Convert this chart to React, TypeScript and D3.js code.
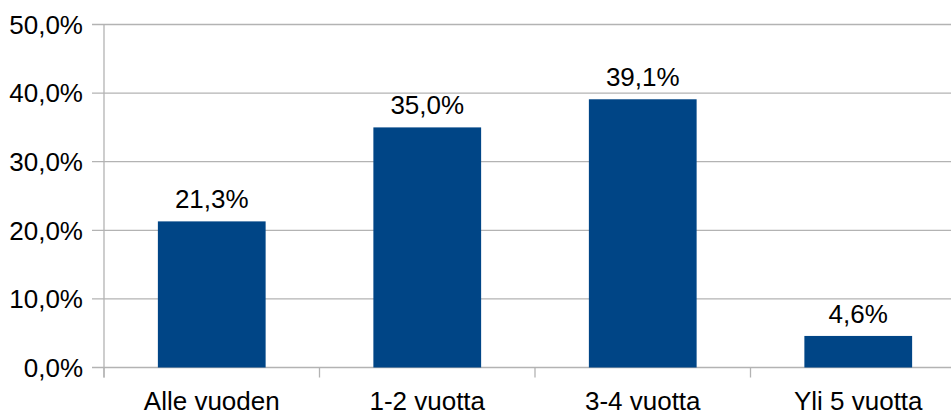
import React from "react";
import * as d3 from "d3";

const categories = ["Alle vuoden", "1-2 vuotta", "3-4 vuotta", "Yli 5 vuotta"];
const values = [21.3, 35.0, 39.1, 4.6];
const yTicks = [0, 10, 20, 30, 40, 50];

const W = 951;
const H = 411;
const left = 104;
const bandW = 215.5;
const y0 = 367.5;
const y50 = 24.5;
const fs = 26;
const fmt = (v: number) => v.toFixed(1).replace(".", ",") + "%";
const font = "'Liberation Sans', Arial, sans-serif";

export default function App() {
  const x = d3
    .scaleBand<string>()
    .domain(categories)
    .range([left, left + bandW * categories.length])
    .paddingInner(0.5)
    .paddingOuter(0.25);
  const y = d3.scaleLinear().domain([0, 50]).range([y0, y50]);
  const catTicks = d3.range(categories.length + 1).map((i) => left + i * bandW);

  return (
    <svg
      width={W}
      height={H}
      style={{ position: "absolute", left: 0, top: 0, background: "#fff" }}
      fontFamily={font}
    >
      {yTicks.map((t) => (
        <g key={t}>
          <line x1={92} x2={W} y1={y(t)} y2={y(t)} stroke="#b3b3b3" strokeWidth={1.3} />
          <text x={83} y={y(t) + 9.3} textAnchor="end" fontSize={fs} fill="#000">
            {fmt(t)}
          </text>
        </g>
      ))}
      <line x1={left} x2={left} y1={y50} y2={y0 + 10} stroke="#b3b3b3" strokeWidth={1.3} />
      {catTicks.map((cx, i) => (
        <line key={i} x1={cx} x2={cx} y1={y0} y2={y0 + 10} stroke="#b3b3b3" strokeWidth={1.3} />
      ))}
      {categories.map((c, i) => (
        <g key={c}>
          <rect
            x={x(c)!}
            y={y(values[i])}
            width={x.bandwidth()}
            height={y0 - y(values[i])}
            fill="#004586"
          />
          <text
            x={x(c)! + x.bandwidth() / 2}
            y={y(values[i]) - 13}
            textAnchor="middle"
            fontSize={fs}
            fill="#000"
          >
            {fmt(values[i])}
          </text>
          <text
            x={x(c)! + x.bandwidth() / 2}
            y={410}
            textAnchor="middle"
            fontSize={fs}
            fill="#000"
          >
            {c}
          </text>
        </g>
      ))}
    </svg>
  );
}
